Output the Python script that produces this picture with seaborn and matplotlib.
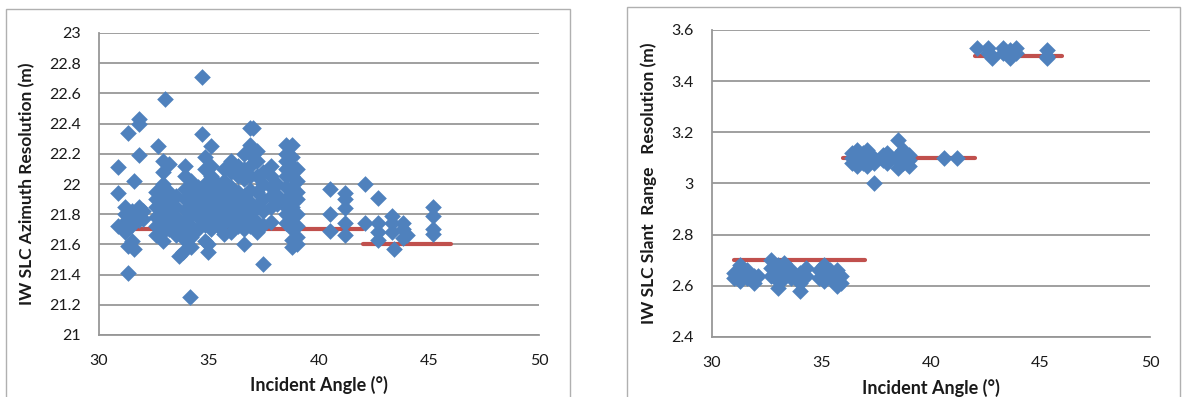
import matplotlib.pyplot as plt
import pandas as pd
import seaborn as sns
from matplotlib.patches import Rectangle

# ---- left panel: IW SLC azimuth resolution, values grouped by incident angle
azi_col_angle = [30.85, 31.2, 31.3, 31.5, 31.6, 31.8, 32.0, 32.6, 32.7, 32.9, 33.0, 33.2, 33.5,
                 33.65, 33.8, 33.9, 34.15, 34.2, 34.5, 34.7, 34.8, 34.95, 35.1, 35.4, 35.7,
                 36.0, 36.3, 36.6, 36.85, 37.0, 37.2, 37.45, 37.8, 38.1, 38.5, 38.75, 39.0,
                 40.5, 41.17, 42.1, 42.67, 43.33, 43.42, 43.8, 44.0, 45.17]
azi_col_values = [
    [22.11, 21.94, 21.72],
    [21.85, 21.8, 21.75, 21.68],
    [22.34, 21.59, 21.41],
    [21.82, 21.78, 21.73, 21.62],
    [22.02, 21.57],
    [22.43, 22.40, 22.19, 21.85, 21.8, 21.76],
    [21.82, 21.77],
    [21.95, 21.9, 21.85, 21.78, 21.72, 21.66],
    [22.25],
    [22.15, 22.08, 22.0, 21.93, 21.86, 21.8, 21.74, 21.68, 21.62],
    [22.56],
    [22.13, 21.95, 21.88, 21.82, 21.76, 21.7],
    [21.92, 21.85, 21.78, 21.72, 21.66],
    [21.52],
    [21.55],
    [22.12, 22.05, 21.97, 21.9, 21.83, 21.76, 21.69, 21.63],
    [21.25],
    [22.02, 21.95, 21.87, 21.8, 21.72, 21.65, 21.58],
    [21.98, 21.9, 21.84, 21.78, 21.7],
    [22.71, 22.33],
    [22.18, 22.1, 22.0, 21.93, 21.86, 21.8, 21.73, 21.62],
    [21.6, 21.55],
    [22.25, 22.12, 22.05, 21.97, 21.9, 21.83, 21.76, 21.7],
    [22.0, 21.92, 21.85, 21.78, 21.72],
    [22.1, 22.02, 21.95, 21.88, 21.8, 21.74, 21.67],
    [22.15, 22.08, 21.98, 21.9, 21.83, 21.75, 21.68],
    [22.12, 22.05, 21.95, 21.88, 21.8, 21.72],
    [22.2, 22.1, 22.03, 21.92, 21.85, 21.78, 21.7, 21.6],
    [22.37, 22.26, 22.2, 22.12, 22.05, 21.96, 21.88, 21.8, 21.72],
    [22.37],
    [22.22, 22.15, 22.05, 21.95, 21.85, 21.75, 21.68],
    [22.08, 22.0, 21.9, 21.82, 21.73, 21.47],
    [22.12, 22.05, 21.98, 21.92, 21.85, 21.75],
    [22.0, 21.93, 21.87],
    [22.26, 22.2, 22.15, 22.1, 22.05, 21.98, 21.9, 21.85, 21.8, 21.74],
    [22.26, 22.18, 22.12, 22.05, 21.98, 21.92, 21.85, 21.78, 21.7, 21.63, 21.58],
    [22.1, 22.02, 21.95, 21.9, 21.8, 21.72, 21.65, 21.6],
    [21.97, 21.8, 21.69],
    [21.94, 21.9, 21.84, 21.74, 21.66],
    [22.0, 21.74],
    [21.91, 21.74, 21.68, 21.63],
    [21.79, 21.74, 21.68],
    [21.57],
    [21.74, 21.7, 21.64],
    [21.66],
    [21.85, 21.79, 21.7, 21.67],
]
azi_spec_start = [31, 42]
azi_spec_end = [42, 46]
azi_spec_value = [21.7, 21.6]

# ---- right panel: IW SLC slant range resolution
rng_col_angle = [31.0, 31.3, 31.6, 31.9, 32.1, 32.7, 33.0, 33.3, 33.6, 34.0, 34.3, 34.9,
                 35.1, 35.4, 35.7, 35.9, 36.4, 36.6, 36.9, 37.1, 37.4, 37.8, 38.0, 38.5,
                 38.7, 39.0, 40.6, 41.2, 42.1, 42.6, 42.8, 43.3, 43.6, 43.9, 45.3]
rng_col_values = [
    [2.65, 2.63], [2.68, 2.65, 2.62], [2.66, 2.63], [2.64, 2.61], [2.64],
    [2.7, 2.67, 2.64], [2.68, 2.65, 2.62, 2.59], [2.69, 2.66, 2.63], [2.66, 2.63],
    [2.65, 2.61, 2.58], [2.67, 2.64], [2.66, 2.63], [2.68, 2.65, 2.62], [2.66, 2.63],
    [2.66, 2.63, 2.6], [2.64, 2.61],
    [3.12, 3.1, 3.08], [3.13, 3.11, 3.09, 3.07], [3.12, 3.1, 3.08],
    [3.13, 3.11, 3.09, 3.07], [3.1, 3.08, 3.0], [3.11, 3.09], [3.12, 3.1, 3.08],
    [3.17, 3.11, 3.09, 3.06], [3.13, 3.1, 3.08], [3.11, 3.09, 3.07], [3.1], [3.1],
    [3.53], [3.53, 3.51], [3.5, 3.49], [3.53, 3.51], [3.52, 3.5, 3.49], [3.53, 3.51],
    [3.52, 3.5, 3.49],
]
rng_spec_start = [31, 36, 42]
rng_spec_end = [37, 42, 46]
rng_spec_value = [2.7, 3.1, 3.5]

BLUE = "#4F81BD"
RED = "#C0504D"
GRID = "#979797"
TXT = "#1a1a1a"


def points_frame(angles, values):
    rows = [(a, v) for a, vals in zip(angles, values) for v in vals]
    return pd.DataFrame(rows, columns=["angle", "res"])


def spec_frame(starts, ends, vals):
    rows = []
    for i, (s, e, v) in enumerate(zip(starts, ends, vals)):
        rows.append((s, v, i))
        rows.append((e, v, i))
    return pd.DataFrame(rows, columns=["angle", "res", "seg"])


sns.set_style("white")
plt.rcParams["font.family"] = ["Lato", "DejaVu Sans"]

fig = plt.figure(figsize=(11.86, 3.97), dpi=100)

# chart-area frames like the Excel originals
fig.patches.append(Rectangle((6 / 1186, -0.05), (570 - 6) / 1186, 1.05 - 9 / 397,
                             transform=fig.transFigure, fill=False, ec="#b0b0b0", lw=1))
fig.patches.append(Rectangle((627 / 1186, -0.05), (1180 - 627) / 1186, 1.05 - 7 / 397,
                             transform=fig.transFigure, fill=False, ec="#b0b0b0", lw=1))

ax1 = fig.add_axes([99 / 1186, 1 - 335 / 397, 440 / 1186, 302 / 397])
ax2 = fig.add_axes([712 / 1186, 1 - 337 / 397, 438 / 1186, 307 / 397])


def style_axis(ax, ylim, step, ylabel, ylab_x):
    ax.set_xlim(30, 50)
    ax.set_ylim(*ylim)
    ax.set_xticks(range(30, 51, 5))
    n = int(round((ylim[1] - ylim[0]) / step))
    ticks = [round(ylim[0] + i * step, 2) for i in range(n + 1)]
    ax.set_yticks(ticks)
    ax.set_yticklabels([f"{t:g}" for t in ticks])
    ax.yaxis.grid(True, color=GRID, lw=1.3)
    ax.xaxis.grid(False)
    ax.set_axisbelow(True)
    for side in ["top", "right"]:
        ax.spines[side].set_visible(False)
    for side in ["left", "bottom"]:
        ax.spines[side].set_color(GRID)
        ax.spines[side].set_linewidth(1.3)
    ax.tick_params(axis="both", direction="out", length=4, width=1.3, color=GRID,
                   labelsize=11.5, labelcolor=TXT)
    ax.tick_params(axis="y", pad=9)
    ax.tick_params(axis="x", pad=10)
    ax.set_xlabel("Incident Angle (°)", fontsize=13, fontweight="bold", color=TXT)
    ax.set_ylabel(ylabel, fontsize=12.5, fontweight="bold", color=TXT)
    ax.xaxis.set_label_coords(0.5, -0.135)
    ax.yaxis.set_label_coords(ylab_x, 0.5)


for ax, (ang, vals), (s, e, v) in [
    (ax1, (azi_col_angle, azi_col_values), (azi_spec_start, azi_spec_end, azi_spec_value)),
    (ax2, (rng_col_angle, rng_col_values), (rng_spec_start, rng_spec_end, rng_spec_value)),
]:
    sns.lineplot(data=spec_frame(s, e, v), x="angle", y="res", units="seg",
                 estimator=None, color=RED, lw=3, ax=ax, zorder=2)
    sns.scatterplot(data=points_frame(ang, vals), x="angle", y="res", marker="D",
                    s=72, color=BLUE, linewidth=0, ax=ax, zorder=3)

style_axis(ax1, (21, 23), 0.2, "IW SLC Azimuth Resolution (m)", -0.145)
style_axis(ax2, (2.4, 3.6), 0.2, "IW SLC Slant  Range   Resolution (m)", -0.125)

fig.savefig("out.png", dpi=100)
